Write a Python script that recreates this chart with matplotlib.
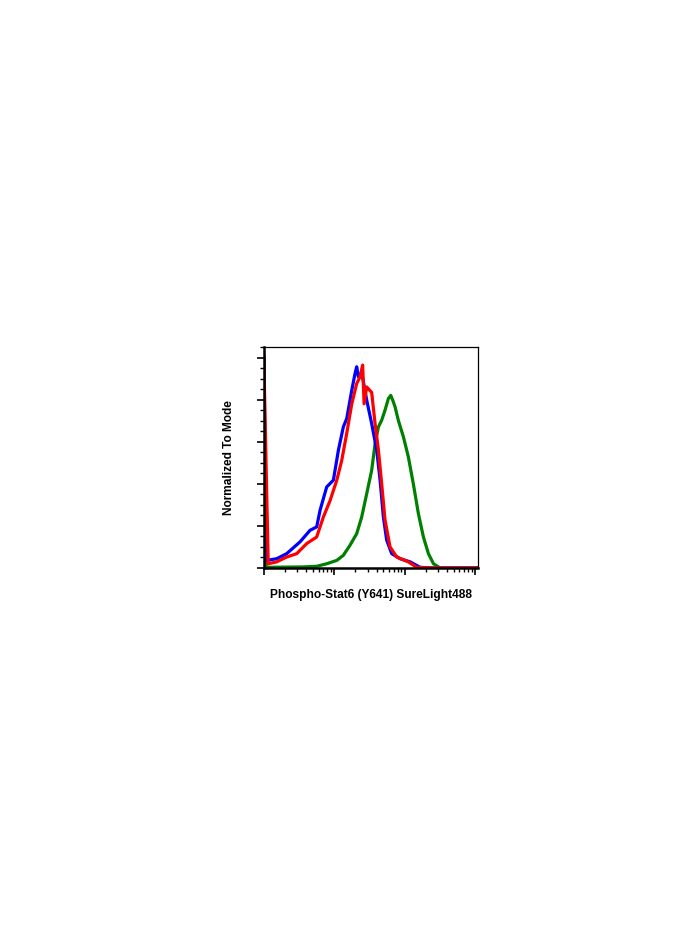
import numpy as np
import matplotlib
matplotlib.use("Agg")
import matplotlib.pyplot as plt
from matplotlib.ticker import MultipleLocator, LogLocator, NullFormatter

plt.rcParams['font.family'] = ['Liberation Sans', 'DejaVu Sans']

# Fluorescence intensity (log axis) and normalized counts for each sample
blue_x = [1.0, 1.0, 1.10, 1.53, 2.12, 3.28, 4.55, 5.65, 6.31, 7.84, 9.75, 11.5, 13.5,
          15.1, 17.8, 19.8, 20.9, 22.1, 24.6, 29.0, 34.1, 40.2, 44.9, 50.0, 55.7,
          65.6, 86.3, 120, 166, 250, 1090]
blue_y = [0, 101, 3.6, 4.4, 6.8, 12.4, 17.9, 19.5, 27.4, 38.5, 41.7, 56, 67,
          71, 84.5, 92.4, 95.6, 90.8, 93, 79.7, 68.6, 56, 41.7, 24.2, 13.2,
          6.8, 4.4, 2.9, 0.3, 0, 0]

red_x = [1.0, 1.0, 1.16, 1.53, 2.12, 2.94, 4.08, 5.65, 7.03, 8.75, 10.9, 12.8,
         15.1, 17.8, 20.9, 23.3, 25.4, 26.6, 29.0, 34.1, 38.1, 42.5, 47.3, 52.8,
         62.2, 77.3, 113, 149, 250, 1090]
red_y = [0, 102, 2.0, 2.9, 5.2, 6.8, 11.6, 14.7, 24.2, 32, 41.7, 51,
         64, 78, 87.6, 90.8, 96.4, 78, 86, 83.4, 68.6, 56, 40, 22.7,
         10, 5.2, 2.9, 0.3, 0, 0]

green_x = [1.0, 1.0, 1.10, 3.66, 5.65, 7.84, 10.9, 13.5, 16.8, 20.9, 24.6, 29.0,
           34.1, 38.1, 42.5, 47.3, 52.8, 58.9, 63.6, 67.9, 73.3, 81.7, 96.2,
           113, 133, 157, 185, 218, 257, 319, 1090]
green_y = [0, 6.8, 0.3, 0.5, 0.8, 2.0, 3.6, 6.0, 10.8, 16.3, 24.2, 35.3,
           46.4, 59, 67, 70.2, 75, 80.5, 82, 79.7, 76.5, 70, 62.3,
           52.8, 40, 25.8, 14.7, 6.8, 2.0, 0, 0]

fig = plt.figure(figsize=(7, 9.34), dpi=100)
ax = fig.add_axes([0.3767, 0.3919, 0.3057, 0.2366])

ax.plot(green_x, green_y, color='#008000', lw=2.3, solid_joinstyle='round')
ax.plot(blue_x, blue_y, color='#0000ff', lw=2.3, solid_joinstyle='round')
ax.plot(red_x, red_y, color='#ff0000', lw=2.3, solid_joinstyle='round')

ax.set_xscale('log')
ax.set_xlim(1, 1090)
ax.set_ylim(0, 105)

ax.xaxis.set_major_locator(LogLocator(base=10, numticks=10))
ax.xaxis.set_minor_locator(LogLocator(base=10, subs=np.arange(2, 10), numticks=20))
ax.xaxis.set_major_formatter(NullFormatter())
ax.xaxis.set_minor_formatter(NullFormatter())
ax.yaxis.set_major_locator(MultipleLocator(20))
ax.yaxis.set_minor_locator(MultipleLocator(5))
ax.yaxis.set_major_formatter(NullFormatter())

ax.tick_params(which='major', direction='out', length=5, width=1.2, color='black')
ax.tick_params(which='minor', direction='out', length=3, width=1, color='black')

for side in ['left', 'bottom']:
    ax.spines[side].set_linewidth(1.8)
for side in ['top', 'right']:
    ax.spines[side].set_linewidth(0.9)

ax.set_xlabel('Phospho-Stat6 (Y641) SureLight488', fontsize=8.6, fontweight='bold', labelpad=7)
ax.set_ylabel('Normalized To Mode', fontsize=8.6, fontweight='bold', labelpad=12)

fig.savefig('out.png', dpi=100)
